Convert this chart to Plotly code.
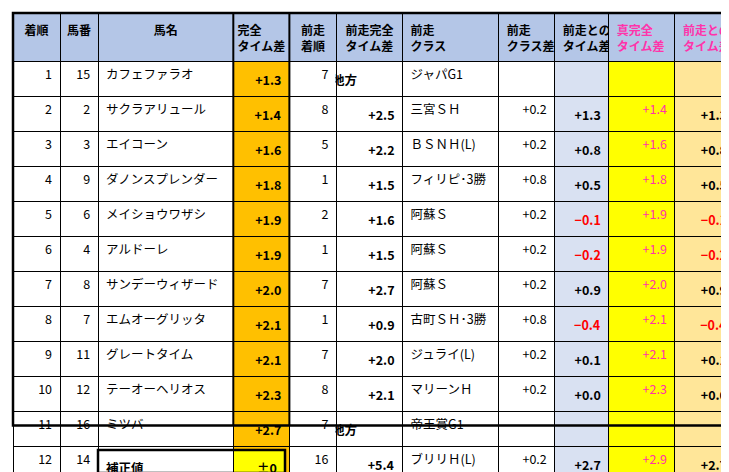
import plotly.graph_objects as go

W, H = 729, 472
rank = [str(i) for i in range(1, 17)]
umaban = ["15","2","3","9","6","4","8","7","11","12","16","14","13","1","5","10"]
names = ["カフェファラオ","サクラアリュール","エイコーン","ダノンスプレンダー","メイショウワザシ","アルドーレ",
         "サンデーウィザード","エムオーグリッタ","グレートタイム","テーオーヘリオス","ミツバ","ナムラアラシ",
         "キメラヴェリテ","ダイシンインディー","ランスオブプラーナ","ダイメイコリーダ"]
kanzen = ["+1.3","+1.4","+1.6","+1.8","+1.9","+1.9","+2.0","+2.1","+2.1","+2.3","+2.7","+2.9","+4.3","+4.9","+5.2","+6.2"]
prev_rank = ["7","8","5","1","2","1","7","1","7","8","7","16","15","7","15","2"]
prev_kanzen = ["地方","+2.5","+2.2","+1.5","+1.6","+1.5","+2.7","+0.9","+2.0","+2.1","地方","+5.4","+3.8","+2.1","+3.5","地方"]
prev_class = ["ジャパG1","三宮ＳＨ","ＢＳＮＨ(L)","フィリピ･3勝","阿蘇Ｓ","阿蘇Ｓ","阿蘇Ｓ","古町ＳＨ･3勝","ジュライ(L)",
              "マリーンＨ","帝王賞G1","ブリリＨ(L)","鳴尾記念G3","スレイプ","ケフェウＨ","ジャパG1"]
class_diff = ["","+0.2","+0.2","+0.8","+0.2","+0.2","+0.2","+0.8","+0.2","+0.2","","+0.2","±0","+0.2","+0.2",""]
diff_prev = ["","+1.3","+0.8","+0.5","−0.1","−0.2","+0.9","−0.4","+0.1","+0.0","","+2.7","−0.5","−2.6","−1.5",""]
shin = ["","+1.4","+1.6","+1.8","+1.9","+1.9","+2.0","+2.1","+2.1","+2.3","","+2.9","+4.3","+4.9","+5.2",""]
diff_prev2 = list(diff_prev)
headers = ["着順","馬番","馬名","完全<br>タイム差","前走<br>着順","前走完全<br>タイム差","前走<br>クラス",
           "前走<br>クラス差","前走との<br>タイム差","真完全<br>タイム差","前走との<br>タイム差"]
hosei_label, hosei_value = "補正値", "±0"

colw = [47, 38, 135, 56, 47, 66, 96, 56, 54, 66, 60]
n = len(rank)
b = lambda L: ["<b>%s</b>" % v if v else "" for v in L]
red = lambda L: ["#ff0000" if v.startswith("−") else "black" for v in L]
pk = "#ff33aa"
pk_col = [pk] * n

# "地方" sits at the left of a right-aligned column: pad with ideographic spaces
prev_kanzen_txt = ["<b>%s</b>" % (v + "\u3000" * 3 if v == "地方" else v) for v in prev_kanzen]

cols = [rank, umaban, names, b(kanzen), prev_rank, prev_kanzen_txt, prev_class, class_diff,
        b(diff_prev), shin, b(diff_prev2)]
fills = ["white"]*3 + ["#ffc000"] + ["white"]*4 + ["#d9e1f2", "#ffff00", "#ffe699"]
fcol = ["black"]*8 + [red(diff_prev), pk_col, red(diff_prev2)]
aligns = ["right", "right", "left", "right", "right", "right", "left", "right", "right", "right", "right"]

x0, x1 = 5, 727
y0 = 5
hh, rh = 43, 23.1
font = "Noto Sans CJK JP"
fig = go.Figure()
fig.add_trace(go.Table(
    domain=dict(x=[x0/W, x1/W], y=[0, 1 - y0/H]),
    columnwidth=colw,
    header=dict(values=["<b>%s</b>" % h for h in headers], height=hh,
                fill_color="#b4c6e7", line=dict(color="black", width=1),
                align=["center"]*6 + ["left"]*5,
                font=dict(family=font, size=12, color=["black"]*9 + [pk, pk])),
    cells=dict(values=cols, height=rh, fill_color=fills, line=dict(color="black", width=1),
               align=aligns, font=dict(family=font, size=12.5, color=fcol))))
fig.add_trace(go.Table(
    domain=dict(x=[90/W, 277/W], y=[0, 1 - 442/H]),
    columnwidth=[135, 52],
    header=dict(values=["<b>%s</b>" % hosei_label, "<b>%s</b>" % hosei_value], height=23,
                fill_color=["white", "#ffff00"], align=["left", "right"],
                line=dict(color="black", width=1), font=dict(family=font, size=12.5, color="black"))))

bottom = y0 + hh + rh * n
shapes = [dict(type="rect", xref="paper", yref="paper", x0=x0/W, x1=x1/W, y0=1-y0/H, y1=1-bottom/H,
               line=dict(color="black", width=2.5)),
          dict(type="rect", xref="paper", yref="paper", x0=90/W, x1=277/W, y0=1-442/H, y1=1-465/H,
               line=dict(color="black", width=2.5))]
tot = sum(colw)
acc = x0
edges = []
for w in colw:
    edges.append(acc)
    acc += w * (x1 - x0) / tot
edges.append(acc)
for xx in (edges[3], edges[4]):
    shapes.append(dict(type="line", xref="paper", yref="paper", x0=xx/W, x1=xx/W,
                       y0=1-y0/H, y1=1-bottom/H, line=dict(color="black", width=2)))
fig.update_layout(width=W, height=H, margin=dict(l=0, r=0, t=0, b=0),
                  paper_bgcolor="white", shapes=shapes)
fig.write_html("out.html")
